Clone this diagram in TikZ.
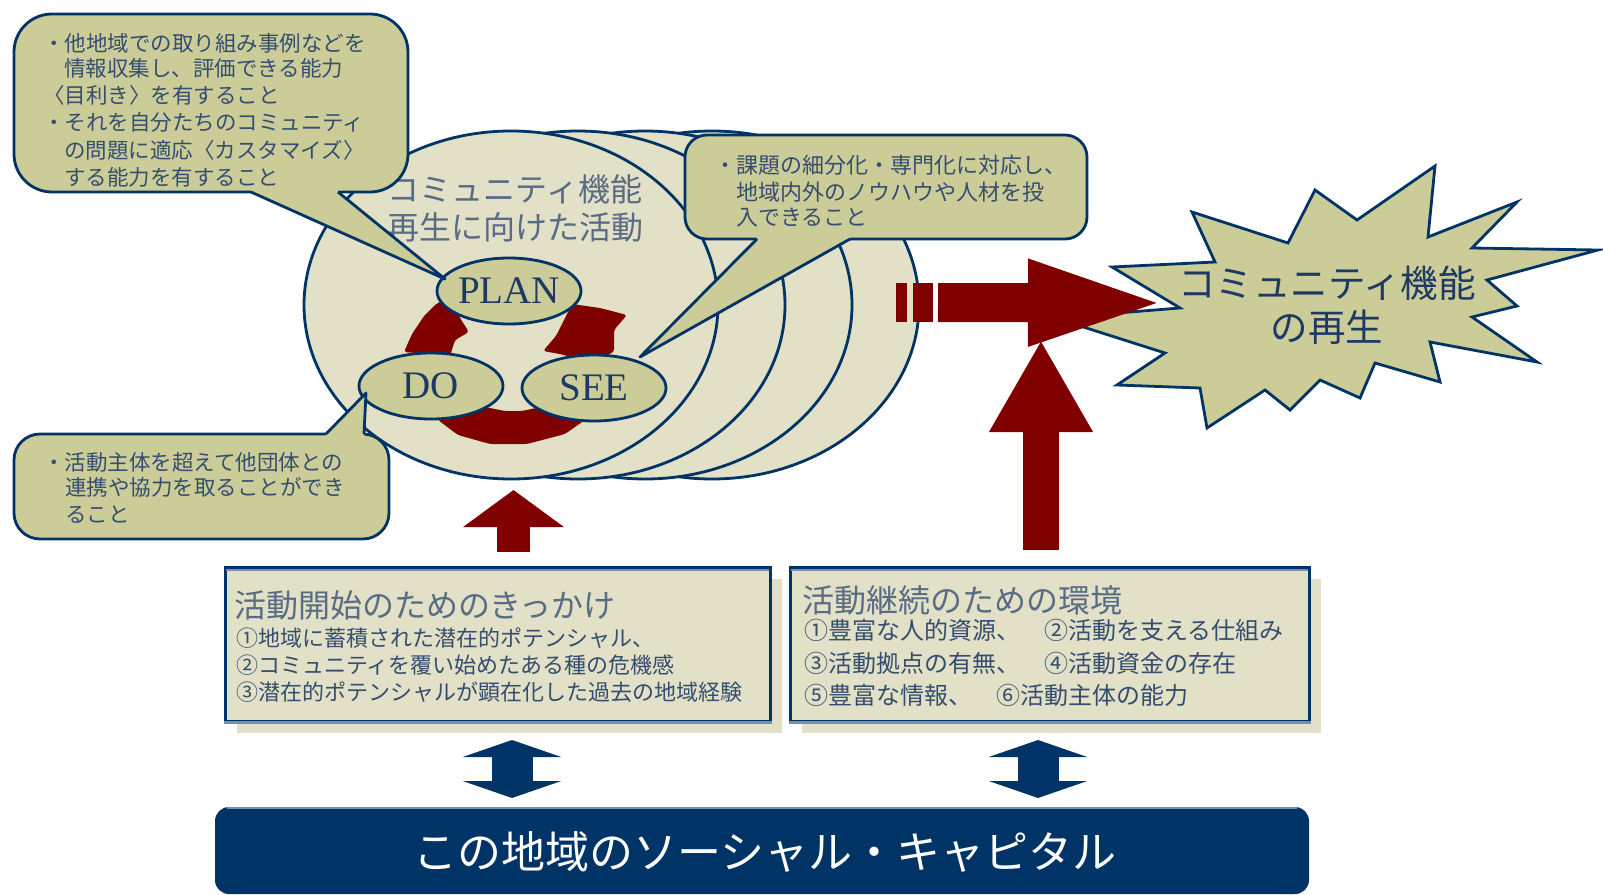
\documentclass[tikz,border=0pt]{standalone}
\usepackage{fontspec}
\setmainfont{Liberation Serif}
\newfontfamily\jp{Noto Sans CJK JP}
\usetikzlibrary{arrows.meta,shapes.geometric}
\definecolor{navy}{RGB}{0,51,102}
\definecolor{khaki}{RGB}{204,204,153}
\definecolor{beige}{RGB}{226,224,198}
\definecolor{dred}{RGB}{128,0,0}
\definecolor{grayblue}{RGB}{120,144,168}
\definecolor{txt}{RGB}{52,78,112}
\definecolor{ttl}{RGB}{88,108,134}
\definecolor{pdstext}{RGB}{30,58,98}
\begin{document}
\begin{tikzpicture}[x=1pt,y=-1pt,
  ol/.style={draw=navy,line width=2.8pt},
  bigell/.style={ellipse,ol,fill=beige,minimum width=414pt,minimum height=348pt,inner sep=0pt},
  pds/.style={ellipse,ol,fill=khaki,minimum width=144pt,minimum height=66pt,inner sep=0pt,font=\fontsize{39}{40}\selectfont,text=pdstext},
  bubble/.style={rectangle,ol,fill=khaki,rounded corners=#1,inner sep=0pt},
  ctext/.style={anchor=west,inner sep=0pt,text=txt,font=\jp\fontsize{21.5}{24}\selectfont},
  atext/.style={anchor=west,inner sep=0pt,text=txt,font=\jp\fontsize{22}{24}\selectfont},
  btext/.style={anchor=west,inner sep=0pt,text=txt,font=\jp\fontsize{24}{26}\selectfont},
  boxttl/.style={anchor=west,inner sep=0pt,text=ttl,font=\jp\fontsize{32}{34}\selectfont},
  infobox/.style={rectangle,draw=navy,line width=3pt,fill=beige,inner sep=0pt},
  shadowbox/.style={rectangle,fill=beige,inner sep=0pt},
  redpiece/.style={fill=dred,rounded corners=3pt},
  dblarrow/.style={navy,line width=41pt,{Triangle[width=98pt,length=17pt]}-{Triangle[width=98pt,length=17pt]}}
]
\useasboundingbox (0,0) rectangle (1603,894);
\fill[white] (0,0) rectangle (1603,894);

% stacked ellipses
\node[bigell] (e4) at (712,305) {};
\node[bigell] (e3) at (645,305) {};
\node[bigell] (e2) at (578,305) {};
\node[bigell] (e1) at (511,305) {};
\node[align=center,inner sep=0pt,text=ttl,font=\jp\fontsize{32}{38}\selectfont] (title) at (515,208) {コミュニティ機能\\再生に向けた活動};

% red cycle pieces
\fill[redpiece] (404,352) -- (412,334) -- (424,316) -- (436,304) -- (452,296) -- (460,318) -- (469,332) -- (455,340) -- (450,356) -- cycle;
\fill[redpiece] (572,304) -- (600,308) -- (627,315) -- (614,330) -- (614,352) -- (590,362) -- (560,354) -- (543,351) -- (556,336) -- cycle;
\fill[redpiece] (430,392) -- (470,404) -- (505,411) -- (522,411) -- (555,404) -- (600,392) -- (592,415) -- (565,434) -- (527,444) -- (490,444) -- (458,435) -- (438,420) -- cycle;

\node[pds] (plan) at (509,291) {PLAN};
\node[pds] (do) at (431,386) {DO};
\node[pds] (see) at (594,388) {SEE};

% callout 1
\node[bubble=38pt,minimum width=394pt,minimum height=178pt] (c1) at (211,103) {};
\coordinate (t1) at (445,279);
\fill[khaki] (251,187) -- (251,192) -- (t1) -- (338,192) -- (338,187) -- cycle;
\draw[navy,line width=2.8pt,line join=round] (251,192) -- (t1) -- (338,192);
\node[ctext] (c1a) at (43,43) {・他地域での取り組み事例などを};
\node[ctext] (c1b) at (64,68) {情報収集し、評価できる能力};
\node[ctext] (c1c) at (43,95) {〈目利き〉を有すること};
\node[ctext] (c1d) at (43,122) {・それを自分たちのコミュニティ};
\node[ctext] (c1e) at (64,150) {の問題に適応〈カスタマイズ〉};
\node[ctext] (c1f) at (64,177) {する能力を有すること};

% callout 2
\node[bubble=22pt,minimum width=402pt,minimum height=104pt] (c2) at (886,187) {};
\coordinate (t2) at (640,357);
\fill[khaki] (757,234) -- (757,239) -- (t2) -- (850,239) -- (850,234) -- cycle;
\draw[navy,line width=2.8pt,line join=round] (757,239) -- (t2) -- (850,239);
\node[ctext,font=\jp\fontsize{22}{24}\selectfont] (c2a) at (714,165) {・課題の細分化・専門化に対応し、};
\node[ctext,font=\jp\fontsize{22}{24}\selectfont] (c2b) at (736,192) {地域内外のノウハウや人材を投};
\node[ctext,font=\jp\fontsize{22}{24}\selectfont] (c2c) at (736,218) {入できること};

% callout 3
\node[bubble=26pt,minimum width=375pt,minimum height=105pt] (c3) at (201.5,486.5) {};
\coordinate (t3) at (366,393);
\fill[khaki] (326,439) -- (326,434) -- (t3) -- (364,434) -- (364,439) -- cycle;
\draw[navy,line width=2.8pt,line join=round] (326,434) -- (t3) -- (364,434);
\node[ctext] (c3a) at (43,462) {・活動主体を超えて他団体との};
\node[ctext] (c3b) at (65,487) {連携や協力を取ることができ};
\node[ctext] (c3c) at (65,515) {ること};

% star
\draw[navy,line width=2.8pt,fill=khaki,line join=miter]
  (1112,267) -- (1215,262) -- (1192,212) -- (1288,243) -- (1315,190) -- (1357,220)
  -- (1435,166) -- (1428,237) -- (1517,202) -- (1472,248) -- (1598,250) -- (1487,280)
  -- (1517,306) -- (1472,317) -- (1537,362) -- (1430,342) -- (1440,382) -- (1375,363)
  -- (1360,398) -- (1320,380) -- (1290,410) -- (1265,390) -- (1207,428) -- (1200,388)
  -- (1117,385) -- (1165,353) -- (1055,318) -- (1180,308) -- cycle;
\node[align=center,inner sep=0pt,text=pdstext,font=\jp\fontsize{37.5}{44}\selectfont] (star) at (1327,305) {コミュニティ機能\\の再生};

% red arrows
\fill[dred] (896,283) rectangle (907,322);
\fill[dred] (913,283) rectangle (933,322);
\coordinate (h1) at (938,302.5);
\coordinate (h2) at (1176,303);
\draw[dred,line width=39pt,-{Triangle[width=74pt,length=148pt]}] (h1) -- (h2);
\coordinate (u1) at (1041,550);
\coordinate (u2) at (1041,340);
\draw[dred,line width=36pt,-{Triangle[width=97pt,length=92pt]}] (u1) -- (u2);
\coordinate (v1) at (513.5,552);
\coordinate (v2) at (513.5,490);
\draw[dred,line width=33pt,-{Triangle[width=99pt,length=37pt]}] (v1) -- (v2);

% info boxes
\node[shadowbox,minimum width=545pt,minimum height=154pt] (sa) at (509.5,656) {};
\node[infobox,minimum width=545pt,minimum height=154pt] (ba) at (497.5,644) {};
\draw[grayblue,line width=3pt] (ba.south west) -- (ba.south east);
\draw[grayblue,line width=2pt] ([shift={(2.5,4)}]ba.north west) -- ([shift={(-2.5,4)}]ba.north east);
\node[boxttl] (bat) at (234,605) {活動開始のためのきっかけ};
\node[atext] (ba1) at (236,638) {①地域に蓄積された潜在的ポテンシャル、};
\node[atext] (ba2) at (236,665) {②コミュニティを覆い始めたある種の危機感};
\node[atext] (ba3) at (236,692) {③潜在的ポテンシャルが顕在化した過去の地域経験};

\node[shadowbox,minimum width=519pt,minimum height=154pt] (sb) at (1061.5,656) {};
\node[infobox,minimum width=519pt,minimum height=154pt] (bb) at (1049.5,644) {};
\draw[grayblue,line width=3pt] (bb.south west) -- (bb.south east);
\draw[grayblue,line width=2pt] ([shift={(2.5,4)}]bb.north west) -- ([shift={(-2.5,4)}]bb.north east);
\node[boxttl] (bbt) at (802,600) {活動継続のための環境};
\node[btext] (bb1) at (804,630) {①豊富な人的資源、　②活動を支える仕組み};
\node[btext] (bb2) at (804,663) {③活動拠点の有無、　④活動資金の存在};
\node[btext] (bb3) at (804,695) {⑤豊富な情報、　⑥活動主体の能力};

% bar
\node[rectangle,fill=navy,rounded corners=14pt,minimum width=1094pt,minimum height=87pt,inner sep=0pt] (bar) at (762,850.5) {};
\draw[grayblue,line width=2pt] ([xshift=12pt,yshift=-1pt]bar.north west) -- ([xshift=-12pt,yshift=-1pt]bar.north east);
\node[inner sep=0pt,text=white,font=\jp\fontsize{44}{46}\selectfont] (bartext) at (765,852) {この地域のソーシャル・キャピタル};

% double arrows
\coordinate (d1a) at (512,740);
\coordinate (d1b) at (512,798);
\draw[dblarrow] (d1a) -- (d1b);
\coordinate (d2a) at (1038,740);
\coordinate (d2b) at (1038,798);
\draw[dblarrow] (d2a) -- (d2b);
\end{tikzpicture}
\end{document}
